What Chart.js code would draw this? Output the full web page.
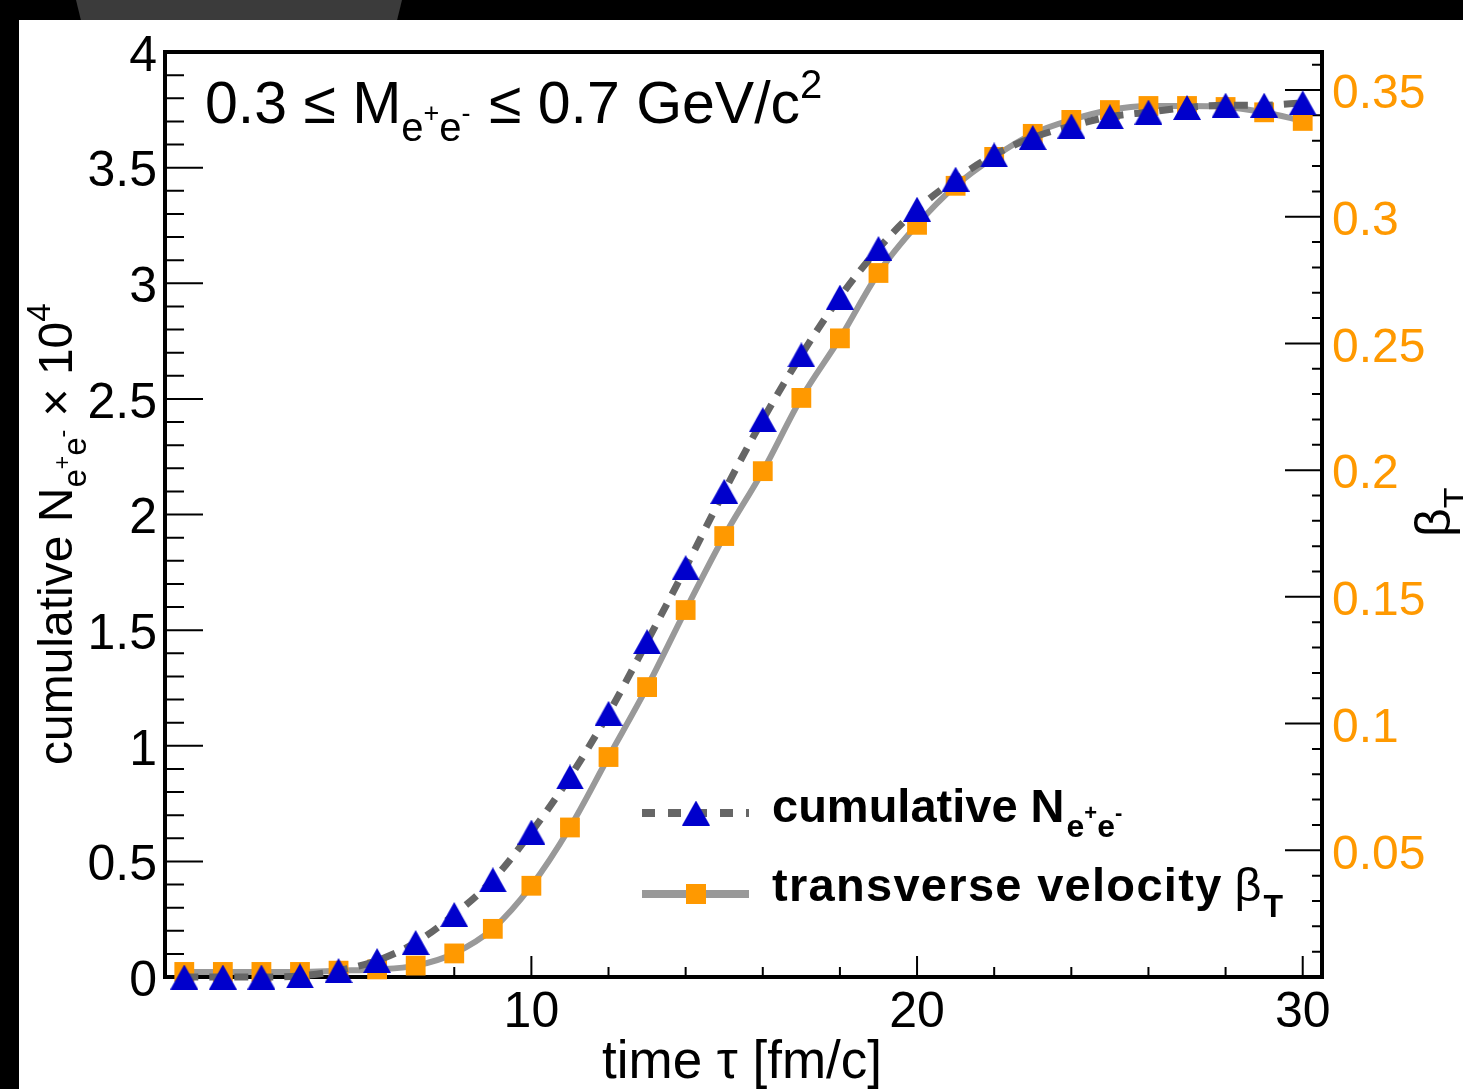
<!DOCTYPE html>
<html>
<head>
<meta charset="utf-8">
<script src="https://cdn.jsdelivr.net/npm/chart.js@4.4.0/dist/chart.umd.min.js"></script>
<style>
  html, body { margin: 0; padding: 0; background: #000; overflow: hidden; }
  #wrap { position: relative; width: 1463px; height: 1089px; }
  #panel { position: absolute; left: 19px; top: 20px; right: 0; bottom: 0; background: #fff; }
  #tab { position: absolute; left: 76px; top: 0; width: 326px; height: 20px; background: #3b3b3b;
         clip-path: polygon(0 0, 100% 0, 98.5% 100%, 1.5% 100%); }
  canvas { position: absolute; left: 0; top: 0; }
</style>
</head>
<body>
<div id="wrap">
  <div id="panel"></div>
  <div id="tab"></div>
  <canvas id="chart" width="1463" height="1089"></canvas>
</div>
<script>
const FAMILY = '"Liberation Sans", Arial, Helvetica, sans-serif';

// time tau [fm/c]
const tau = [1, 2, 3, 4, 5, 6, 7, 8, 9, 10, 11, 12, 13, 14, 15,
             16, 17, 18, 19, 20, 21, 22, 23, 24, 25, 26, 27, 28, 29, 30];
// cumulative N(e+e-) x 10^4 (left axis)
const cumulativeN = [0, 0, 0, 0.005, 0.028, 0.071, 0.149, 0.27, 0.42, 0.627,
                     0.865, 1.14, 1.45, 1.77, 2.10, 2.41, 2.69, 2.94, 3.15, 3.32,
                     3.45, 3.555, 3.63, 3.68, 3.72, 3.74, 3.76, 3.77, 3.77, 3.78];
// transverse velocity beta_T (right axis)
const betaT = [0.002, 0.002, 0.002, 0.002, 0.0025, 0.003, 0.0045, 0.0093, 0.019, 0.036,
               0.059, 0.0868, 0.1144, 0.1448, 0.174, 0.1996, 0.2285, 0.252, 0.2778, 0.2968,
               0.3122, 0.3236, 0.3327, 0.3382, 0.3421, 0.3437, 0.3437, 0.3433, 0.3412, 0.3378];

const xTicks = [10, 20, 30];
const xTickLabels = ['10', '20', '30'];
const leftTicks = [0, 0.5, 1, 1.5, 2, 2.5, 3, 3.5, 4];
const leftTickLabels = ['0', '0.5', '1', '1.5', '2', '2.5', '3', '3.5', '4'];
const rightTicks = [0.05, 0.1, 0.15, 0.2, 0.25, 0.3, 0.35];
const rightTickLabels = ['0.05', '0.1', '0.15', '0.2', '0.25', '0.3', '0.35'];

const BLUE = '#0000cc';
const ORANGE = '#ff9900';

// triangle marker centred on its bounding box (like ROOT marker 22)
function makeTriangle(w, h, color) {
  const c = document.createElement('canvas');
  c.width = w; c.height = h;
  const g = c.getContext('2d');
  g.fillStyle = color;
  g.beginPath();
  g.moveTo(w / 2, 0); g.lineTo(w, h); g.lineTo(0, h);
  g.closePath(); g.fill();
  return c;
}
const triangle = makeTriangle(28, 25, BLUE);

function drawRich(ctx, x, y, parts) {
  let cx = x;
  parts.forEach(p => {
    ctx.font = (p.bold ? 'bold ' : '') + p.size + 'px ' + FAMILY;
    ctx.letterSpacing = (p.ls || 0) + 'px';
    ctx.fillText(p.t, cx, y + (p.dy || 0));
    cx += ctx.measureText(p.t).width + (p.gap || 0);
  });
  ctx.letterSpacing = '0px';
  return cx - x;
}

const framePlugin = {
  id: 'frame',
  beforeDatasetsDraw(chart) {
    const { ctx, chartArea: a, scales } = chart;
    ctx.save();
    ctx.strokeStyle = '#000';
    ctx.lineWidth = 2;
    ctx.beginPath();
    // left axis: minor every 0.1
    for (let i = 1; i < 40; i++) {
      const y = scales.y.getPixelForValue(i / 10);
      const len = i % 5 === 0 ? 38 : 19;
      ctx.moveTo(a.left, y); ctx.lineTo(a.left + len, y);
    }
    // right axis: minor every 0.01
    for (let i = 1; i <= 36; i++) {
      const y = scales.y2.getPixelForValue(i / 100);
      const len = i % 5 === 0 ? 37 : 10;
      ctx.moveTo(a.right, y); ctx.lineTo(a.right - len, y);
    }
    // x axis: minor every 2
    for (let t = 2; t <= 30; t += 2) {
      const x = scales.x.getPixelForValue(t);
      const len = t % 10 === 0 ? 21 : 10;
      ctx.moveTo(x, a.bottom); ctx.lineTo(x, a.bottom - len);
    }
    ctx.stroke();
    ctx.lineWidth = 4;
    ctx.strokeRect(a.left, a.top, a.right - a.left, a.bottom - a.top);
    ctx.restore();
  },
  afterDraw(chart) {
    const { ctx, chartArea: a } = chart;
    ctx.save();
    ctx.fillStyle = '#000';
    ctx.textBaseline = 'alphabetic';

    // header inside the frame
    drawRich(ctx, a.left + 40, a.top + 71, [
      { t: '0.3 \u2264 M', size: 59 },
      { t: 'e', size: 40, dy: 18 },
      { t: '+', size: 27, dy: -1 },
      { t: 'e', size: 40, dy: 18 },
      { t: '-', size: 27, dy: -1, gap: 2 },
      { t: ' \u2264 0.7 GeV/c', size: 59 },
      { t: '2', size: 40, dy: -25 }
    ]);

    // x title
    drawRich(ctx, 602, 1078, [{ t: 'time \u03c4 [fm/c]', size: 53 }]);

    // left title (rotated)
    ctx.save();
    ctx.translate(72, 765);
    ctx.rotate(-Math.PI / 2);
    drawRich(ctx, 0, 0, [
      { t: 'cumulative N', size: 48 },
      { t: 'e', size: 33, dy: 14 },
      { t: '+', size: 23, dy: -2 },
      { t: 'e', size: 33, dy: 14 },
      { t: '-', size: 23, dy: -2 },
      { t: ' \u00d7 10', size: 48 },
      { t: '4', size: 33, dy: -22 }
    ]);
    ctx.restore();

    // right title (rotated, partly cut by the page edge)
    ctx.save();
    ctx.translate(1450, 537);
    ctx.rotate(-Math.PI / 2);
    drawRich(ctx, 0, 0, [
      { t: '\u03b2', size: 50 },
      { t: 'T', size: 34, dy: 17 }
    ]);
    ctx.restore();

    // legend
    const lx0 = 642, lx1 = 749, mx = 696, r1 = 813, r2 = 894;
    ctx.lineWidth = 8;
    ctx.strokeStyle = '#666666';
    ctx.setLineDash([13, 13]);
    ctx.beginPath(); ctx.moveTo(lx0, r1); ctx.lineTo(lx1, r1); ctx.stroke();
    ctx.setLineDash([]);
    ctx.strokeStyle = '#999999';
    ctx.beginPath(); ctx.moveTo(lx0, r2); ctx.lineTo(lx1, r2); ctx.stroke();
    ctx.drawImage(triangle, mx - triangle.width / 2, r1 - triangle.height / 2);
    ctx.fillStyle = ORANGE;
    ctx.fillRect(mx - 10, r2 - 10, 20, 20);

    ctx.fillStyle = '#000';
    drawRich(ctx, 772, 822, [
      { t: 'cumulative N', size: 47, bold: true, gap: 2 },
      { t: 'e', size: 32, dy: 15, bold: true },
      { t: '+', size: 22, dy: -2, bold: true },
      { t: 'e', size: 32, dy: 15, bold: true },
      { t: '-', size: 22, dy: -2, bold: true }
    ]);
    drawRich(ctx, 772, 901, [
      { t: 'transverse velocity', size: 47, bold: true, ls: 1.3, gap: 12 },
      { t: '\u03b2', size: 47, gap: 2 },
      { t: 'T', size: 32, dy: 16, bold: true }
    ]);
    ctx.restore();
  }
};

const tickFont = { family: FAMILY, size: 50 };

const chart = new Chart(document.getElementById('chart'), {
  type: 'line',
  data: {
    datasets: [
      {
        label: 'cumulative N',
        data: tau.map((t, i) => ({ x: t, y: cumulativeN[i] })),
        yAxisID: 'y',
        order: 0,
        borderColor: '#666666',
        borderWidth: 7,
        borderDash: [14, 11],
        cubicInterpolationMode: 'monotone',
        pointStyle: triangle,
        pointRadius: 14,
        pointBackgroundColor: BLUE,
        pointBorderWidth: 0,
        clip: false
      },
      {
        label: 'transverse velocity',
        data: tau.map((t, i) => ({ x: t, y: betaT[i] })),
        yAxisID: 'y2',
        order: 1,
        borderColor: '#999999',
        borderWidth: 6,
        cubicInterpolationMode: 'monotone',
        pointStyle: 'rect',
        pointRadius: 14,
        pointBackgroundColor: ORANGE,
        pointBorderColor: ORANGE,
        pointBorderWidth: 0,
        clip: false
      }
    ]
  },
  options: {
    responsive: false,
    animation: false,
    layout: { padding: { top: 52, left: 0, right: 0, bottom: 0 } },
    plugins: { legend: { display: false }, tooltip: { enabled: false } },
    scales: {
      x: {
        type: 'linear', min: 0.5, max: 30.5,
        afterBuildTicks: s => { s.ticks = xTicks.map(v => ({ value: v })); },
        afterFit: s => { s.height = 112; },
        grid: { display: false, drawTicks: false },
        border: { display: false },
        ticks: {
          font: tickFont, color: '#000', padding: 6, maxRotation: 0, autoSkip: false,
          callback: v => xTickLabels[xTicks.indexOf(v)]
        }
      },
      y: {
        position: 'left', min: 0, max: 4,
        afterBuildTicks: s => { s.ticks = leftTicks.map(v => ({ value: v })); },
        afterFit: s => { s.width = 165; },
        grid: { display: false, drawTicks: false },
        border: { display: false },
        ticks: {
          font: tickFont, color: '#000', padding: 8, autoSkip: false, labelOffset: 5,
          callback: v => leftTickLabels[leftTicks.indexOf(v)]
        }
      },
      y2: {
        position: 'right', min: 0, max: 0.365,
        afterBuildTicks: s => { s.ticks = rightTicks.map(v => ({ value: v })); },
        afterFit: s => { s.width = 141; },
        grid: { display: false, drawTicks: false },
        border: { display: false },
        ticks: {
          font: { family: FAMILY, size: 48 }, color: ORANGE, padding: 10, autoSkip: false, labelOffset: 5,
          callback: v => rightTickLabels[rightTicks.indexOf(v)]
        }
      }
    }
  },
  plugins: [framePlugin]
});
</script>
</body>
</html>
